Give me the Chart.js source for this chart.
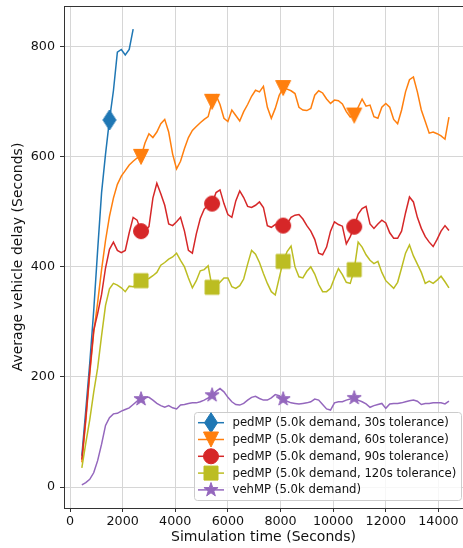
<!DOCTYPE html>
<html><head><meta charset="utf-8">
<script src="https://cdn.jsdelivr.net/npm/chart.js@4.4.1/dist/chart.umd.min.js"></script>
<style>html,body{margin:0;padding:0;background:#fff;overflow:hidden}#wrap{width:463px;height:548px}</style>
</head><body><div id="wrap"><canvas id="c" width="463" height="548"></canvas></div>
<script>
const times=[450,600,750,900,1050,1200,1350,1500,1650,1800,1950,2100,2250,2400,2550,2700,2850,3000,3150,3300,3450,3600,3750,3900,4050,4200,4350,4500,4650,4800,4950,5100,5250,5400,5550,5700,5850,6000,6150,6300,6450,6600,6750,6900,7050,7200,7350,7500,7650,7800,7950,8100,8250,8400,8550,8700,8850,9000,9150,9300,9450,9600,9750,9900,10050,10200,10350,10500,10650,10800,10950,11100,11250,11400,11550,11700,11850,12000,12150,12300,12450,12600,12750,12900,13050,13200,13350,13500,13650,13800,13950,14100,14250,14400];
const blueTimes=[450,600,750,900,1050,1200,1350,1500,1650,1800,1950,2100,2250,2400];
const tol30=[57,140,225,320,430,535,605,667,720,790,795,785,795,832];
const tol60=[45,120,205,280,335,395,448,492,525,550,565,575,585,592,598,600,625,642,635,645,660,668,645,605,578,592,615,635,648,655,662,668,673,700,712,695,670,664,685,675,665,682,695,710,721,718,728,690,670,688,712,725,723,720,715,690,685,684,688,712,720,716,705,697,703,702,696,682,672,675,690,705,692,694,673,670,690,697,690,668,660,685,718,740,745,718,685,664,643,645,642,638,632,672];
const tol90=[50,125,210,285,315,350,398,432,445,430,426,430,462,490,485,465,466,473,525,552,533,512,478,475,482,490,465,430,425,460,488,505,512,515,535,540,515,495,490,520,538,526,510,508,512,518,508,475,472,477,478,475,478,490,494,495,487,475,465,450,425,422,436,465,482,477,474,442,455,473,496,506,510,478,470,478,485,480,462,452,452,465,498,527,518,490,470,455,445,437,450,465,475,466];
const tol120=[35,80,122,172,216,275,330,360,370,367,362,355,365,364,368,375,378,379,384,390,403,408,414,418,425,412,400,380,362,375,393,395,402,363,366,372,380,380,364,361,366,378,405,430,423,408,388,370,355,349,380,410,428,438,400,382,380,392,400,387,368,355,355,361,380,397,386,372,370,395,445,436,422,412,406,410,390,375,368,361,372,398,425,440,420,405,390,370,374,370,376,383,373,362];
const vehMP=[4,8,14,26,48,78,112,126,133,134,138,141,144,150,156,160,163,163,158,152,148,145,148,144,142,149,150,152,153,153,155,158,162,167,174,179,173,163,155,150,149,152,158,163,165,161,158,158,162,168,166,160,156,153,152,151,152,153,155,160,158,150,142,140,153,155,155,158,160,162,158,155,151,145,148,150,152,143,151,152,152,153,155,157,158,156,150,152,152,153,153,153,151,156];
const blueMarkerTimes=[1500];
const markerTimes=[2700,5400,8100,10800];
const seriesLabels=['pedMP (5.0k demand, 30s tolerance)','pedMP (5.0k demand, 60s tolerance)','pedMP (5.0k demand, 90s tolerance)','pedMP (5.0k demand, 120s tolerance)','vehMP (5.0k demand)'];
const seriesColors=['#1f77b4','#ff7f0e','#d62728','#bcbd22','#9467bd'];
const seriesShapes=['thinDiamond','triangleDown','circle','square','star'];
const xTicks=[0,2000,4000,6000,8000,10000,12000,14000];
const yTicks=[0,200,400,600,800];

function shapePath(ctx,shape){
  ctx.beginPath();
  if(shape==='thinDiamond'){ctx.moveTo(0,-10);ctx.lineTo(6.5,0);ctx.lineTo(0,10);ctx.lineTo(-6.5,0);ctx.closePath();}
  else if(shape==='triangleDown'){ctx.moveTo(-7.5,-7.5);ctx.lineTo(7.5,-7.5);ctx.lineTo(0,7.5);ctx.closePath();}
  else if(shape==='circle'){ctx.arc(0,0,7.5,0,Math.PI*2);}
  else if(shape==='square'){ctx.rect(-7,-7,14,14);}
  else if(shape==='star'){for(let i=0;i<10;i++){const r=i%2?2.9:7.4;const a=-Math.PI/2+i*Math.PI/5;const px=r*Math.cos(a),py=r*Math.sin(a);if(i)ctx.lineTo(px,py);else ctx.moveTo(px,py);}ctx.closePath();}
}
function makeMarker(shape,color){
  const cv=document.createElement('canvas');cv.width=24;cv.height=24;
  const g=cv.getContext('2d');g.translate(12,12);shapePath(g,shape);
  g.fillStyle=color;g.fill();g.strokeStyle=color;g.lineWidth=1;g.stroke();return cv;
}
const markers=seriesShapes.map((s,i)=>makeMarker(s,seriesColors[i]));

function pts(ts,vs){return ts.map((t,i)=>({x:t,y:vs[i]}));}
const allValues=[tol30,tol60,tol90,tol120,vehMP];
const datasets=allValues.map((vals,i)=>{
  const ts=i===0?blueTimes:times;const mk=i===0?blueMarkerTimes:markerTimes;
  return {label:seriesLabels[i],data:pts(ts,vals),borderColor:seriesColors[i],backgroundColor:seriesColors[i],
    borderWidth:1.5,tension:0,fill:false,order:5-i,pointStyle:markers[i],
    pointRadius:(c)=>(c.raw&&mk.includes(c.raw.x))?7:0,pointHoverRadius:0};
});

const DF='DejaVu Sans';
const frame={id:'frame',afterDraw(chart){
  const {ctx,chartArea:a}=chart;ctx.save();
  ctx.strokeStyle='#333';ctx.lineWidth=1;ctx.beginPath();ctx.moveTo(a.left,a.top+0.5);ctx.lineTo(a.right,a.top+0.5);ctx.stroke();
  const L=194.5,T=412.5,R=461.5,B=500.5,rr=3;
  ctx.beginPath();ctx.moveTo(L+rr,T);ctx.lineTo(R-rr,T);ctx.quadraticCurveTo(R,T,R,T+rr);ctx.lineTo(R,B-rr);ctx.quadraticCurveTo(R,B,R-rr,B);
  ctx.lineTo(L+rr,B);ctx.quadraticCurveTo(L,B,L,B-rr);ctx.lineTo(L,T+rr);ctx.quadraticCurveTo(L,T,L+rr,T);ctx.closePath();
  ctx.fillStyle='rgba(255,255,255,0.8)';ctx.fill();ctx.strokeStyle='#cccccc';ctx.stroke();
  ctx.font='11.7px "'+DF+'"';ctx.textBaseline='middle';ctx.textAlign='left';
  seriesLabels.forEach((lab,i)=>{
    const y=422.7+i*16.8;
    ctx.strokeStyle=seriesColors[i];ctx.lineWidth=1.5;ctx.beginPath();ctx.moveTo(198,y);ctx.lineTo(224,y);ctx.stroke();
    ctx.save();ctx.translate(211,y);shapePath(ctx,seriesShapes[i]);ctx.fillStyle=seriesColors[i];ctx.fill();ctx.strokeStyle=seriesColors[i];ctx.lineWidth=1;ctx.stroke();ctx.restore();
    ctx.fillStyle='#111';ctx.fillText(lab,232.5,y+0.5);
  });
  ctx.restore();
}};

new Chart(document.getElementById('c'),{
  type:'line',data:{datasets},
  options:{responsive:false,animation:false,devicePixelRatio:1,events:[],
    layout:{padding:{left:0,top:6,right:0,bottom:0}},
    plugins:{legend:{display:false},tooltip:{enabled:false}},
    scales:{
      x:{type:'linear',min:-228,max:14934,
        afterBuildTicks:s=>{s.ticks=xTicks.map(v=>({value:v}));},
        afterFit:s=>{s.height=40;s.paddingLeft=0;s.paddingRight=0;},
        ticks:{callback:v=>String(v),font:{family:DF,size:12.7},color:'#111',padding:2,maxRotation:0,autoSkip:false},
        grid:{color:'#d6d6d6',lineWidth:1,tickLength:4,tickColor:'#333',drawTicks:true},
        border:{color:'#333',width:1},
        title:{display:true,text:'Simulation time (Seconds)',font:{family:DF,size:14},color:'#111',padding:{top:0,bottom:2}}},
      y:{type:'linear',min:-38,max:874,
        afterBuildTicks:s=>{s.ticks=yTicks.map(v=>({value:v}));},
        afterFit:s=>{s.width=64;s.paddingTop=0;s.paddingBottom=0;},
        ticks:{callback:v=>String(v),font:{family:DF,size:12.7},color:'#111',padding:5,autoSkip:false},
        grid:{color:'#d6d6d6',lineWidth:1,tickLength:4,tickColor:'#333',drawTicks:true},
        border:{color:'#333',width:1},
        title:{display:true,text:'Average vehicle delay (Seconds)',font:{family:DF,size:14},color:'#111',padding:{top:10,bottom:0}}}
    }},
  plugins:[frame]
});
</script></body></html>
